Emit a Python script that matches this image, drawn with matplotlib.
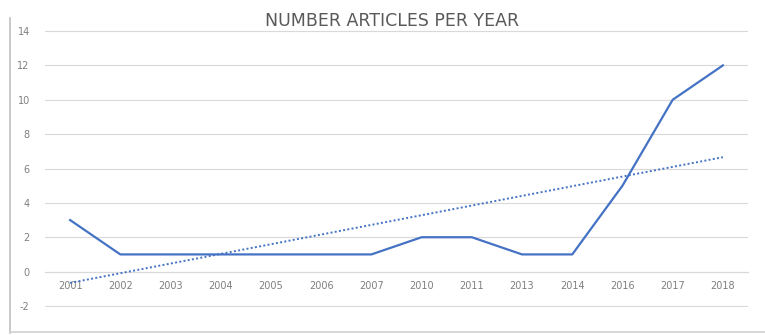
# number_articles.py
# Line chart of articles per year with a dotted linear trendline.

import numpy as np
import matplotlib.pyplot as plt
from matplotlib.lines import Line2D

# Data
years = ["2001", "2002", "2003", "2004", "2005", "2006", "2007",
         "2010", "2011", "2013", "2014", "2016", "2017", "2018"]
articles = [3, 1, 1, 1, 1, 1, 1, 2, 2, 1, 1, 5, 10, 12]
y_ticks = [-2, 0, 2, 4, 6, 8, 10, 12, 14]

blue = "#4472C4"
grid_gray = "#d9d9d9"
text_gray = "#7f7f7f"

fig = plt.figure(figsize=(7.65, 3.35), dpi=100)
ax = fig.add_axes([45/765, 1 - 307/335, (748 - 45)/765, (307 - 30)/335])

x = np.arange(len(years))
ax.plot(x, articles, color=blue, linewidth=1.6, solid_joinstyle="round", zorder=3)

# Excel-style linear trendline from the data (fit on 1..n)
coef = np.polyfit(x + 1, articles, 1)
ax.plot(x, np.polyval(coef, x + 1), color=blue, linewidth=1.4,
        linestyle=(0, (1, 1.2)), zorder=3)

ax.set_xlim(-0.5, len(years) - 0.5)
ax.set_ylim(-2.06, 14.06)
ax.set_yticks(y_ticks)
ax.set_yticklabels([str(v) for v in y_ticks])
ax.set_xticks(x)
ax.set_xticklabels(years)

ax.grid(axis="y", color=grid_gray, linewidth=0.8)
ax.set_axisbelow(True)
for side in ["top", "right", "left"]:
    ax.spines[side].set_visible(False)
ax.spines["bottom"].set_position(("data", 0))
ax.spines["bottom"].set_color(grid_gray)
ax.spines["bottom"].set_linewidth(0.8)
ax.tick_params(axis="y", length=0, pad=11, labelsize=7, labelcolor=text_gray)
ax.tick_params(axis="x", length=0, pad=7, labelsize=7, labelcolor=text_gray)

fig.text(392/765, 1 - 21/335, "NUMBER ARTICLES PER YEAR", ha="center", va="center",
         fontsize=12.5, color="#595959")

# chart frame (left and bottom edges visible in the reference)
fig.add_artist(Line2D([10/765, 10/765], [1 - 333/335, 1 - 18/335],
                      transform=fig.transFigure, color="#bfbfbf", linewidth=1.2))
fig.add_artist(Line2D([10/765, 1.0], [1 - 332/335, 1 - 332/335],
                      transform=fig.transFigure, color="#d0d0d0", linewidth=1.2))

fig.savefig("out.png", dpi=100)
